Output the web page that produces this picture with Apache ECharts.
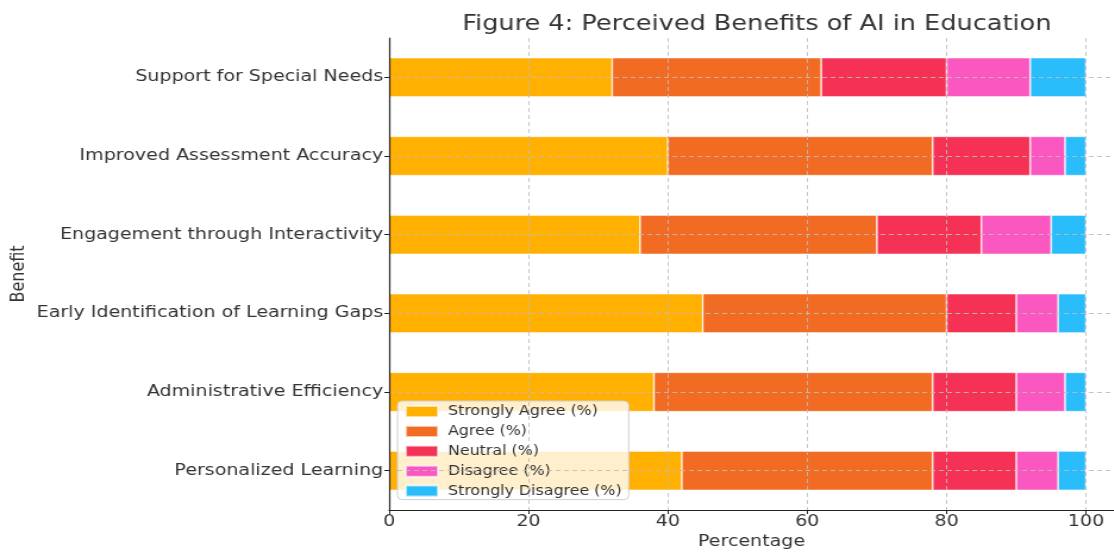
<!DOCTYPE html>
<html><head><meta charset="utf-8">
<script src="https://cdn.jsdelivr.net/npm/echarts@6/dist/echarts.min.js"></script>
<style>
html,body{margin:0;padding:0;background:#fff;overflow:hidden;width:1114px;height:552px}
#c{width:936px;height:552px;transform:scaleX(1.19);transform-origin:0 0}
</style>
</head><body><div id="c"></div>
<script>
const categories = ["Personalized Learning","Administrative Efficiency","Early Identification of Learning Gaps","Engagement through Interactivity","Improved Assessment Accuracy","Support for Special Needs"];
const stronglyAgree = [42, 38, 45, 36, 40, 32];
const agree = [36, 40, 35, 34, 38, 30];
const neutral = [12, 12, 10, 15, 14, 18];
const disagree = [6, 7, 6, 10, 5, 12];
const stronglyDisagree = [4, 3, 4, 5, 3, 8];
const seriesNames = ["Strongly Agree (%)","Agree (%)","Neutral (%)","Disagree (%)","Strongly Disagree (%)"];
const seriesColors = ["#ffb000","#f26b22","#f53155","#fa57c1","#29bdfb"];
const xTicks = [0, 20, 40, 60, 80, 100];

const font = 'DejaVu Sans';
const values = [stronglyAgree, agree, neutral, disagree, stronglyDisagree];
const series = values.map((v, i) => ({
  name: seriesNames[i], type: 'bar', stack: 'total', data: v, barWidth: '50%',
  itemStyle: { color: seriesColors[i], borderColor: 'rgba(255,255,255,0.6)', borderWidth: 0.8 },
  z: 2
}));
series.push({
  type: 'line', data: [], silent: true, z: 4,
  markLine: { silent: true, symbol: 'none', label: { show: false },
    lineStyle: { color: '#bdbdbd', type: [4, 3], width: 0.9 },
    data: categories.map(c => ({ yAxis: c })) }
});
const chart = echarts.init(document.getElementById('c'));
chart.setOption({
  animation: false,
  title: { text: 'Figure 4: Perceived Benefits of AI in Education', left: 631, textAlign: 'center', top: 8,
    textStyle: { fontFamily: font, fontSize: 21.5, fontWeight: 'normal', color: '#333' } },
  grid: { left: 327, right: 0, top: 38, bottom: 42, containLabel: false, outerBoundsMode: 'none' },
  legend: {
    orient: 'vertical', left: 334, top: 401, data: seriesNames,
    itemWidth: 27, itemHeight: 11, itemGap: 6.9,
    backgroundColor: 'rgba(255,255,255,0.8)', borderColor: '#d0d0d0', borderWidth: 1, borderRadius: 4,
    padding: [4, 6, 2, 6], icon: 'rect',
    textStyle: { fontFamily: font, fontSize: 13.3, color: '#333', padding: [0, 0, 0, 3.5] }
  },
  xAxis: {
    type: 'value', min: 0, max: 104, interval: 20, z: 5,
    name: 'Percentage', nameLocation: 'middle', nameGap: 24, nameMoveOverlap: false,
    nameTextStyle: { fontFamily: font, fontSize: 16, color: '#333' },
    axisLine: { show: true, lineStyle: { color: '#222', width: 1.2 } },
    axisTick: { show: true, length: 4, lineStyle: { color: '#222' } },
    axisLabel: { fontFamily: font, fontSize: 16, color: '#333', margin: 4, showMaxLabel: false,
      formatter: v => xTicks.includes(v) ? String(v) : '' },
    splitLine: { show: true, lineStyle: { color: '#bdbdbd', type: [4, 3], width: 0.9 } }
  },
  yAxis: {
    type: 'category', data: categories, z: 5,
    name: 'Benefit', nameLocation: 'middle', nameGap: 303, nameRotate: 90, nameMoveOverlap: false,
    nameTextStyle: { fontFamily: font, fontSize: 16, color: '#333' },
    axisLine: { show: true, lineStyle: { color: '#222', width: 1.2 } },
    axisTick: { show: true, alignWithLabel: true, length: 4, lineStyle: { color: '#222' } },
    axisLabel: { fontFamily: font, fontSize: 16, color: '#333', margin: 5 },
    splitLine: { show: false }
  },
  series: series
});
</script></body></html>
